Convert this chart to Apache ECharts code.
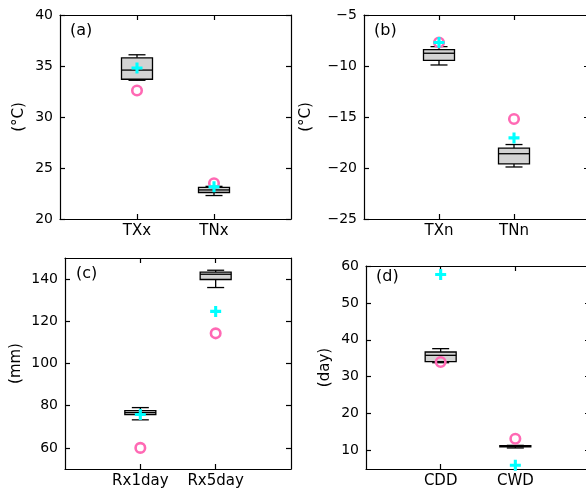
<!DOCTYPE html>
<html>
<head>
<meta charset="utf-8">
<script src="https://cdn.jsdelivr.net/npm/echarts@6/dist/echarts.min.js"></script>
<style>
  html, body { margin: 0; padding: 0; background: #fff; }
  #chart { width: 586px; height: 495px; }
</style>
</head>
<body>
<div id="chart"></div>
<script>
// (a) warm extremes
const catsA = ['TXx', 'TNx']
const boxA = [[33.6, 33.7, 34.6, 35.8, 36.1], [22.3, 22.6, 22.85, 23.1, 23.2]] // min, q1, median, q3, max
const obsA = [32.6, 23.5]
const meanA = [34.8, 23.15]
const yTicksA = [20, 25, 30, 35, 40]

// (b) cold extremes
const catsB = ['TXn', 'TNn']
const boxB = [[-9.9, -9.45, -8.75, -8.4, -8.1], [-19.9, -19.6, -18.6, -18.05, -17.7]]
const obsB = [-7.7, -15.2]
const meanB = [-7.7, -17.05]
const yTicksB = [-25, -20, -15, -10, -5]

// (c) precipitation
const catsC = ['Rx1day', 'Rx5day']
const boxC = [[73.3, 75.8, 76.7, 77.7, 79.1], [136, 139.8, 142.3, 143.3, 144.2]]
const obsC = [60, 114.3]
const meanC = [75.8, 124.7]
const yTicksC = [60, 80, 100, 120, 140]

// (d) dry / wet spells
const catsD = ['CDD', 'CWD']
const boxD = [[33.8, 34.1, 35.8, 36.7, 37.6], [10.7, 11.0, 11.2, 11.3, 11.4]]
const obsD = [34, 13.2]
const meanD = [57.7, 6.0]
const yTicksD = [10, 20, 30, 40, 50, 60]

const FONT = 'DejaVu Sans'
const PLUS = 'path://M3.6,0H6.4V3.6H10V6.4H6.4V10H3.6V6.4H0V3.6H3.6Z'

const panels = [
  { tag: '(a)', unit: '(°C)', cats: catsA, box: boxA, obs: obsA, mean: meanA, ticks: yTicksA, min: 20, max: 40,
    grid: { left: 60, top: 15, width: 231, height: 204 }, nameGap: 33, tagPos: [70, 23] },
  { tag: '(b)', unit: '(°C)', cats: catsB, box: boxB, obs: obsB, mean: meanB, ticks: yTicksB, min: -25, max: -5,
    grid: { left: 364, top: 15, width: 225, height: 204 }, nameGap: 50, tagPos: [374, 23] },
  { tag: '(c)', unit: '(mm)', cats: catsC, box: boxC, obs: obsC, mean: meanC, ticks: yTicksC, min: 50, max: 150,
    grid: { left: 65, top: 258, width: 226, height: 211 }, nameGap: 41, tagPos: [76, 266] },
  { tag: '(d)', unit: '(day)', cats: catsD, box: boxD, obs: obsD, mean: meanD, ticks: yTicksD, min: 5, max: 60,
    grid: { left: 366, top: 266, width: 224, height: 203 }, nameGap: 33, tagPos: [376, 269] }
]

const lineStyle = { color: '#000', width: 1.2 }

function fmt(v) {
  return String(v).replace('-', '\u2212')
}

function renderBox(params, api) {
  const x = api.value(0)
  const lo = api.coord([x, api.value(1)])
  const q1 = api.coord([x, api.value(2)])
  const md = api.coord([x, api.value(3)])
  const q3 = api.coord([x, api.value(4)])
  const hi = api.coord([x, api.value(5)])
  const cx = lo[0]
  const hw = 15.5 // half box width
  const cw = 8.5 // half cap width
  const st = { stroke: '#000', lineWidth: 1.3, fill: null }
  return {
    type: 'group',
    children: [
      { type: 'line', shape: { x1: cx, y1: hi[1], x2: cx, y2: q3[1] }, style: st },
      { type: 'line', shape: { x1: cx, y1: lo[1], x2: cx, y2: q1[1] }, style: st },
      { type: 'line', shape: { x1: cx - cw, y1: hi[1], x2: cx + cw, y2: hi[1] }, style: st },
      { type: 'line', shape: { x1: cx - cw, y1: lo[1], x2: cx + cw, y2: lo[1] }, style: st },
      { type: 'rect', shape: { x: cx - hw, y: q3[1], width: hw * 2, height: q1[1] - q3[1] },
        style: { fill: '#d3d3d3', stroke: '#000', lineWidth: 1.3 } },
      { type: 'line', shape: { x1: cx - hw, y1: md[1], x2: cx + hw, y2: md[1] }, style: st }
    ]
  }
}

const grid = []
const xAxis = []
const yAxis = []
const series = []
const graphic = []

panels.forEach((p, i) => {
  grid.push(Object.assign({ outerBoundsMode: 'none', containLabel: false }, p.grid))
  const xBase = {
    type: 'value', gridIndex: i, min: 0, max: 3,
    axisLine: { show: true, onZero: false, lineStyle },
    axisTick: { show: true, inside: true, length: 5, customValues: [1, 2], lineStyle },
    splitLine: { show: false }
  }
  xAxis.push(Object.assign({}, xBase, {
    position: 'bottom',
    axisLabel: { show: true, customValues: [1, 2], formatter: v => p.cats[v - 1] || '',
      fontSize: 15, fontFamily: FONT, color: '#000', margin: 5 }
  }))
  xAxis.push(Object.assign({}, xBase, { position: 'top', axisLabel: { show: false } }))

  const yBase = {
    type: 'value', gridIndex: i, min: p.min, max: p.max,
    axisLine: { show: true, onZero: false, lineStyle },
    axisTick: { show: true, inside: true, length: 5, customValues: p.ticks, lineStyle },
    splitLine: { show: false }
  }
  yAxis.push(Object.assign({}, yBase, {
    position: 'left',
    axisLabel: { show: true, customValues: p.ticks, formatter: fmt,
      fontSize: 14, fontFamily: FONT, color: '#000', margin: 7 },
    name: p.unit, nameLocation: 'middle', nameRotate: 90, nameGap: p.nameGap,
    nameTextStyle: { fontSize: 15, fontFamily: FONT, color: '#000' }
  }))
  yAxis.push(Object.assign({}, yBase, { position: 'right', axisLabel: { show: false } }))

  series.push({
    type: 'custom', xAxisIndex: 2 * i, yAxisIndex: 2 * i,
    renderItem: renderBox,
    encode: { x: 0, y: [1, 2, 3, 4, 5] },
    data: p.box.map((b, j) => [j + 1].concat(b)),
    z: 2
  })
  series.push({
    type: 'scatter', xAxisIndex: 2 * i, yAxisIndex: 2 * i,
    symbol: 'circle', symbolSize: 9.5,
    itemStyle: { color: 'rgba(0,0,0,0)', borderColor: '#ff69b4', borderWidth: 2.6, opacity: 1 },
    data: p.obs.map((v, j) => [j + 1, v]),
    z: 3
  })
  series.push({
    type: 'scatter', xAxisIndex: 2 * i, yAxisIndex: 2 * i,
    symbol: PLUS, symbolSize: 11,
    itemStyle: { color: '#00ffff', opacity: 1 },
    data: p.mean.map((v, j) => [j + 1, v]),
    z: 4
  })

  graphic.push({
    type: 'text', left: p.tagPos[0], top: p.tagPos[1],
    style: { text: p.tag, font: '16px "DejaVu Sans"', fill: '#000' }
  })
})

const chart = echarts.init(document.getElementById('chart'))
chart.setOption({
  animation: false,
  backgroundColor: '#fff',
  grid,
  xAxis,
  yAxis,
  series,
  graphic
})
</script>
</body>
</html>
